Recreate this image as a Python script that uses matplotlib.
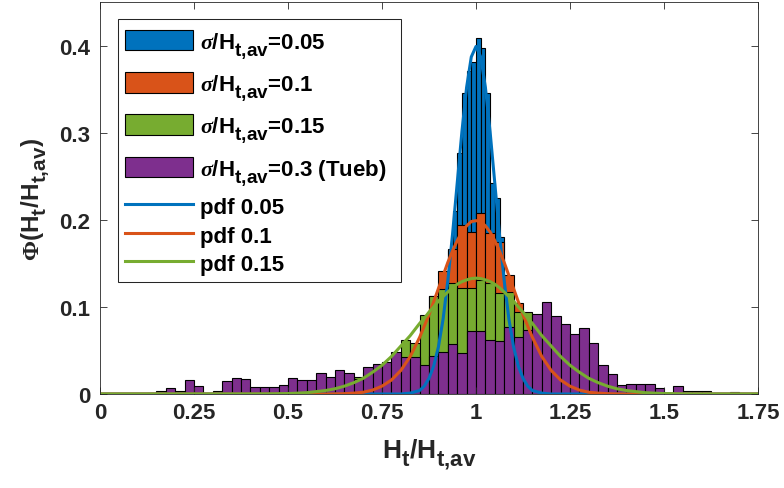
import numpy as np
import matplotlib
matplotlib.use("Agg")
import matplotlib.pyplot as plt
import matplotlib._mathtext as mathtext_internals
from matplotlib.patches import Rectangle

# MATLAB draws sub-scripts almost at full size and drops them further
mathtext_internals.SHRINK_FACTOR = 0.85
mathtext_internals.FontConstantsBase.sub1 = 0.6

# MATLAB default colour order
BLUE, ORANGE, GREEN, PURPLE = "#0072BD", "#D95319", "#77AC30", "#7E2F8E"
AXC = "#262626"

# histogram bars: first bin edge, bin width, bar heights
s005_start, s005_width = 0.875, 0.0125
s005_vals = [0.02, 0.04, 0.07, 0.11, 0.165, 0.21, 0.277, 0.345, 0.371, 0.381, 0.409,
             0.397, 0.346, 0.242, 0.225, 0.18, 0.12, 0.085, 0.05, 0.03, 0.015]

s01_start, s01_width = 0.75, 0.025
s01_vals = [0.01, 0.02, 0.035, 0.055, 0.085, 0.113, 0.141, 0.166, 0.194, 0.186, 0.208,
            0.185, 0.175, 0.137, 0.104, 0.075, 0.05, 0.03, 0.015, 0.007]

s015_start, s015_width = 0.6, 0.025
s015_vals = [0.008, 0.012, 0.015, 0.02, 0.025, 0.03, 0.035, 0.045, 0.062, 0.059, 0.091,
             0.113, 0.12, 0.127, 0.122, 0.122, 0.131, 0.127, 0.116, 0.117, 0.094, 0.094,
             0.07, 0.06, 0.045, 0.035, 0.025, 0.018, 0.012, 0.008, 0.005]

tueb_start, tueb_width = 0.125, 0.025
tueb_vals = [0.0015, 0.003, 0.0065, 0.003, 0.0165, 0.009, 0.0, 0.004, 0.0145, 0.018,
             0.017, 0.0077, 0.0077, 0.0077, 0.010, 0.018, 0.0155, 0.0155, 0.024, 0.020,
             0.028, 0.024, 0.017, 0.031, 0.034, 0.037, 0.048, 0.043, 0.043, 0.033,
             0.044, 0.048, 0.057, 0.047, 0.072, 0.072, 0.062, 0.061, 0.077, 0.066,
             0.073, 0.092, 0.106, 0.090, 0.080, 0.069, 0.076, 0.058, 0.033, 0.023,
             0.010, 0.011, 0.011, 0.011, 0.0065, 0.001, 0.0088, 0.003, 0.004, 0.003,
             0.0, 0.0, 0.002]

# pdf curves, sampled off the figure
curve_x = [0.0, 0.4, 0.45, 0.5, 0.55, 0.6, 0.625, 0.65, 0.675, 0.7, 0.725, 0.75, 0.775,
           0.8, 0.825, 0.85, 0.8625, 0.875, 0.8875, 0.9, 0.9125, 0.925, 0.9375, 0.95,
           0.9625, 0.975, 0.9875, 1.0, 1.0125, 1.025, 1.0375, 1.05, 1.0625, 1.075,
           1.0875, 1.1, 1.1125, 1.125, 1.1375, 1.15, 1.175, 1.2, 1.225, 1.25, 1.275,
           1.3, 1.325, 1.35, 1.375, 1.4, 1.45, 1.5, 1.55, 1.6, 1.75]
pdf005 = [0, 0, 0, 0, 0, 0, 0, 0, 0, 0, 0, 0, 0, 0,
          0.001, 0.004, 0.009, 0.018, 0.032, 0.054, 0.086, 0.130, 0.183, 0.242,
          0.301, 0.352, 0.387, 0.399, 0.387, 0.352, 0.301, 0.242, 0.183, 0.130,
          0.086, 0.054, 0.032, 0.018, 0.009, 0.004, 0.001,
          0, 0, 0, 0, 0, 0, 0, 0, 0, 0, 0, 0, 0, 0]
pdf01 = [0, 0, 0, 0, 0, 0, 0.0002, 0.0004, 0.001, 0.002, 0.0045, 0.009, 0.016,
         0.027, 0.043, 0.065, 0.078, 0.091, 0.106, 0.121, 0.136, 0.151, 0.164, 0.176,
         0.186, 0.193, 0.198, 0.199, 0.198, 0.193, 0.186, 0.176, 0.164, 0.151,
         0.136, 0.121, 0.106, 0.091, 0.078, 0.065, 0.043, 0.027, 0.016, 0.009,
         0.0045, 0.002, 0.001, 0.0004, 0.0002, 0, 0, 0, 0, 0, 0]
pdf015 = [0, 0, 0.0001, 0.0005, 0.0015, 0.004, 0.006, 0.009, 0.013, 0.018, 0.025,
          0.033, 0.043, 0.055, 0.067, 0.081, 0.087, 0.094, 0.100, 0.1065, 0.112,
          0.117, 0.122, 0.126, 0.129, 0.131, 0.1325, 0.133, 0.1325, 0.131, 0.129,
          0.126, 0.122, 0.117, 0.112, 0.1065, 0.100, 0.094, 0.087, 0.081, 0.067,
          0.055, 0.043, 0.033, 0.025, 0.018, 0.013, 0.009, 0.006, 0.004, 0.0015,
          0.0005, 0.0001, 0, 0]

xticks = [0, 0.25, 0.5, 0.75, 1, 1.25, 1.5, 1.75]
xticklabels = ["0", "0.25", "0.5", "0.75", "1", "1.25", "1.5", "1.75"]
yticks = [0, 0.1, 0.2, 0.3, 0.4]
yticklabels = ["0", "0.1", "0.2", "0.3", "0.4"]

SUB = "H$_{t{,}av}$"

plt.rcParams.update({
    "font.family": "Liberation Sans", "font.weight": "bold",
    "axes.labelweight": "bold",
    "mathtext.fontset": "custom", "mathtext.rm": "Liberation Sans:bold",
    "mathtext.it": "Liberation Serif:italic", "mathtext.sf": "Liberation Serif",
    "mathtext.default": "rm",
})

fig = plt.figure(figsize=(7.84, 4.89), dpi=100)
ax = fig.add_axes([100 / 784, 1 - 395 / 489, 658 / 784, 392 / 489])


def draw_hist(start, width, vals, color, label):
    x = start + width * np.arange(len(vals))
    return ax.bar(x, vals, width=width, align="edge", color=color,
                  edgecolor="black", linewidth=0.8, label=label)


bar_handles = [
    draw_hist(s005_start, s005_width, s005_vals, BLUE, r"$\mathit{\sigma}$/" + SUB + "=0.05"),
    draw_hist(s01_start, s01_width, s01_vals, ORANGE, r"$\mathit{\sigma}$/" + SUB + "=0.1"),
    draw_hist(s015_start, s015_width, s015_vals, GREEN, r"$\mathit{\sigma}$/" + SUB + "=0.15"),
    draw_hist(tueb_start, tueb_width, tueb_vals, PURPLE,
              r"$\mathit{\sigma}$/" + SUB + "=0.3 (Tueb)"),
]
line_handles = []
line_handles += ax.plot(curve_x, pdf005, color=BLUE, lw=2.2, label="pdf 0.05")
line_handles += ax.plot(curve_x, pdf01, color=ORANGE, lw=2.2, label="pdf 0.1")
line_handles += ax.plot(curve_x, pdf015, color=GREEN, lw=2.2, label="pdf 0.15")

ax.set_xlim(0, 1.75)
ax.set_ylim(0, 0.45)
ax.set_xticks(xticks)
ax.set_xticklabels(xticklabels)
ax.set_yticks(yticks)
ax.set_yticklabels(yticklabels)
ax.tick_params(direction="in", top=True, right=True, length=5, width=0.6,
               labelsize=16, colors=AXC)
ax.tick_params(axis="x", pad=6)
ax.tick_params(axis="y", pad=7)
for sp in ax.spines.values():
    sp.set_linewidth(0.6)
    sp.set_color(AXC)

ax.set_xlabel("H$_t$/" + SUB, fontsize=19, color=AXC, labelpad=9)
ax.set_ylabel(r"$\mathsf{\Phi}$(H$_t$/" + SUB + ")", fontsize=17.5, color=AXC, labelpad=5)

# legend: one frame, histogram rows are taller than the pdf rows (as in MATLAB)
frame = Rectangle((0.0274, 0.2857), 0.43, 0.6709, transform=ax.transAxes,
                  facecolor="white", edgecolor=AXC, linewidth=0.75, zorder=4.5)
ax.add_patch(frame)
leg_kw = dict(loc="center left", borderaxespad=0, borderpad=0, fontsize=16,
              handlelength=3.06, handleheight=1.04, handletextpad=0.3,
              frameon=False)
leg1 = ax.legend(handles=bar_handles, bbox_to_anchor=(0.038, 0.729),
                 labelspacing=0.55, **leg_kw)
ax.add_artist(leg1)
ax.legend(handles=line_handles, bbox_to_anchor=(0.038, 0.405),
          labelspacing=0.25, **leg_kw)

fig.savefig("out.png", dpi=100)
